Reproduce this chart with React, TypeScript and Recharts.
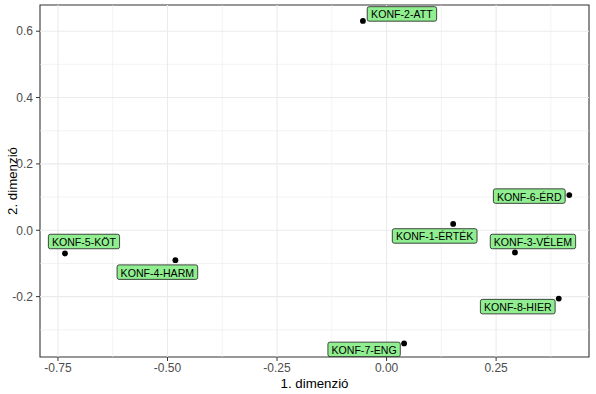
import { ReferenceArea, ReferenceLine, Scatter, ScatterChart, XAxis, YAxis } from 'recharts'

const names = ['KONF-1-ÉRTÉK', 'KONF-2-ATT', 'KONF-3-VÉLEM', 'KONF-4-HARM', 'KONF-5-KÖT', 'KONF-6-ÉRD', 'KONF-7-ENG', 'KONF-8-HIER']
const dim1 = [0.152, -0.054, 0.293, -0.482, -0.734, 0.417, 0.04, 0.393]
const dim2 = [0.019, 0.631, -0.067, -0.09, -0.07, 0.106, -0.341, -0.206]

const xTicks = [-0.75, -0.5, -0.25, 0, 0.25]
const yTicks = [-0.2, 0, 0.2, 0.4, 0.6]
const xMinor = [-0.625, -0.375, -0.125, 0.125, 0.375]
const yMinor = [-0.3, -0.1, 0.1, 0.3, 0.5]

const data = names.map((name, i) => ({ name, x: dim1[i], y: dim2[i] }))

// where each label box sits relative to its point (px, box centre)
const labelOffset: Record<string, [number, number]> = {
  'KONF-1-ÉRTÉK': [-18.5, 12],
  'KONF-2-ATT': [39, -7],
  'KONF-3-VÉLEM': [18, -11],
  'KONF-4-HARM': [-18, 12],
  'KONF-5-KÖT': [19, -12],
  'KONF-6-ÉRD': [-40, 1],
  'KONF-7-ENG': [-40, 6],
  'KONF-8-HIER': [-41, 8],
}

const FONT = '"Liberation Sans", Arial, sans-serif'
const LABEL_SIZE = 10.6

// rough Arial advance widths (em)
const charW: Record<string, number> = {
  K: 0.667, O: 0.778, N: 0.722, F: 0.611, '-': 0.333, A: 0.667, T: 0.611, É: 0.667, R: 0.722,
  V: 0.667, L: 0.556, E: 0.667, M: 0.833, H: 0.722, Ö: 0.778, D: 0.722, G: 0.778, I: 0.278,
}
const textWidth = (s: string) => [...s].reduce((w, c) => w + (charW[c] ?? 0.556), 0) * LABEL_SIZE

function PointWithLabel(props: any) {
  const { cx, cy, payload } = props
  const [dx, dy] = labelOffset[payload.name] ?? [0, -12]
  const w = textWidth(payload.name) + 7
  const h = 14.5
  const bx = cx + dx
  const by = cy + dy
  return (
    <g>
      <circle cx={cx} cy={cy} r={2.9} fill="#000" />
      <rect x={bx - w / 2} y={by - h / 2} width={w} height={h} rx={2} fill="#90EE90" stroke="#1a1a1a" strokeWidth={0.8} />
      <text x={bx} y={by + 0.5} textAnchor="middle" dominantBaseline="central" fontSize={LABEL_SIZE} fontFamily={FONT} fill="#000">
        {payload.name}
      </text>
    </g>
  )
}

export default function App() {
  const tickStyle = { fontSize: 12, fill: '#4D4D4D', fontFamily: FONT }
  return (
    <div style={{ position: 'absolute', left: 0, top: 0, background: '#fff' }}>
      <ScatterChart width={596} height={394} margin={{ top: 5, right: 7, left: 0, bottom: 0 }}>
        <XAxis
          type="number"
          dataKey="x"
          domain={[-0.791, 0.462]}
          ticks={xTicks}
          allowDataOverflow
          tickFormatter={(v: number) => v.toFixed(2)}
          tick={tickStyle}
          tickSize={4}
          tickMargin={2}
          axisLine={false}
          tickLine={{ stroke: '#333333' }}
          height={37}
          label={({ viewBox }: any) => (
            <text x={viewBox.x + viewBox.width / 2} y={388} textAnchor="middle" fontSize={13.3} fontFamily={FONT} fill="#000">
              1. dimenzió
            </text>
          )}
        />
        <YAxis
          type="number"
          dataKey="y"
          domain={[-0.382, 0.679]}
          ticks={yTicks}
          allowDataOverflow
          tickFormatter={(v: number) => v.toFixed(1)}
          tick={tickStyle}
          tickSize={4}
          tickMargin={3}
          axisLine={false}
          tickLine={{ stroke: '#333333' }}
          width={40}
          label={({ viewBox }: any) => {
            const cy = viewBox.y + viewBox.height / 2
            return (
              <text x={12} y={cy} transform={`rotate(-90 12 ${cy})`} textAnchor="middle" dominantBaseline="central" fontSize={13.3} fontFamily={FONT} fill="#000">
                2. dimenzió
              </text>
            )
          }}
        />
        {xMinor.map((v) => (
          <ReferenceLine key={`xm${v}`} x={v} stroke="#EBEBEB" strokeWidth={0.6} />
        ))}
        {yMinor.map((v) => (
          <ReferenceLine key={`ym${v}`} y={v} stroke="#EBEBEB" strokeWidth={0.6} />
        ))}
        {xTicks.map((v) => (
          <ReferenceLine key={`x${v}`} x={v} stroke="#EBEBEB" strokeWidth={1.1} />
        ))}
        {yTicks.map((v) => (
          <ReferenceLine key={`y${v}`} y={v} stroke="#EBEBEB" strokeWidth={1.1} />
        ))}
        <ReferenceArea x1={-0.791} x2={0.462} y1={-0.382} y2={0.679} fill="none" stroke="#333333" strokeWidth={1.1} ifOverflow="visible" />
        <Scatter data={data} shape={PointWithLabel} isAnimationActive={false} />
      </ScatterChart>
    </div>
  )
}
